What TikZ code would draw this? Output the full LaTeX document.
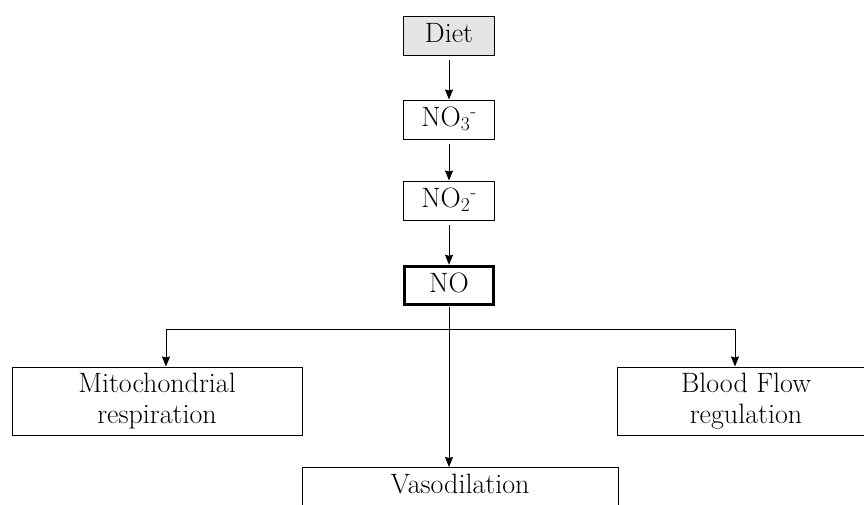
\documentclass[tikz,border=0pt]{standalone}
\usetikzlibrary{arrows.meta}
\begin{document}
\begin{tikzpicture}[x=1pt,y=-1pt,line width=1pt,>={Stealth[length=10pt,width=8pt,inset=1pt]},
	box/.style={draw,inner sep=0pt,align=center,font=\fontsize{28}{31}\selectfont},
	small/.style={box,minimum width=91pt,minimum height=39pt,text height=19pt,text depth=5pt}]
	\useasboundingbox (0,0) rectangle (864,504);
	\clip (0,0) rectangle (864,504);
	\node[small,fill=black!10] (diet) at (449,35.5) {Diet};
	\node[small] (no3) at (449,119.5) {NO\textsubscript{3}\textsuperscript{-}};
	\node[small] (no2) at (449,200.5) {NO\textsubscript{2}\textsuperscript{-}};
	\node[small,line width=3.5pt,minimum width=89pt,minimum height=38pt] (no) at (449,285.5) {NO};
	\node[box,minimum width=290pt,minimum height=68pt] (mito) at (157,401) {Mitochondrial\\respiration};
	\node[box,minimum width=258pt,minimum height=68pt] (blood) at (746,401) {Blood Flow\\regulation};
	\node[box,anchor=north,minimum width=316pt,inner ysep=7pt,text height=19pt,text depth=35pt] (vaso) at (460,467) {Vasodilation};
	\draw[->,shorten <=4pt] (diet) -- (no3);
	\draw[->,shorten <=4pt] (no3) -- (no2);
	\draw[->,shorten <=4pt] (no2) -- (no);
	\coordinate (sl) at (166,329);
	\coordinate (sr) at (735,329);
	\draw[->,shorten <=1pt] (no.south) -- (no.south |- vaso.north);
	\draw (sl) -- (sr);
	\draw[->] (sl) -- (sl |- mito.north);
	\draw[->] (sr) -- (sr |- blood.north);
\end{tikzpicture}
\end{document}
